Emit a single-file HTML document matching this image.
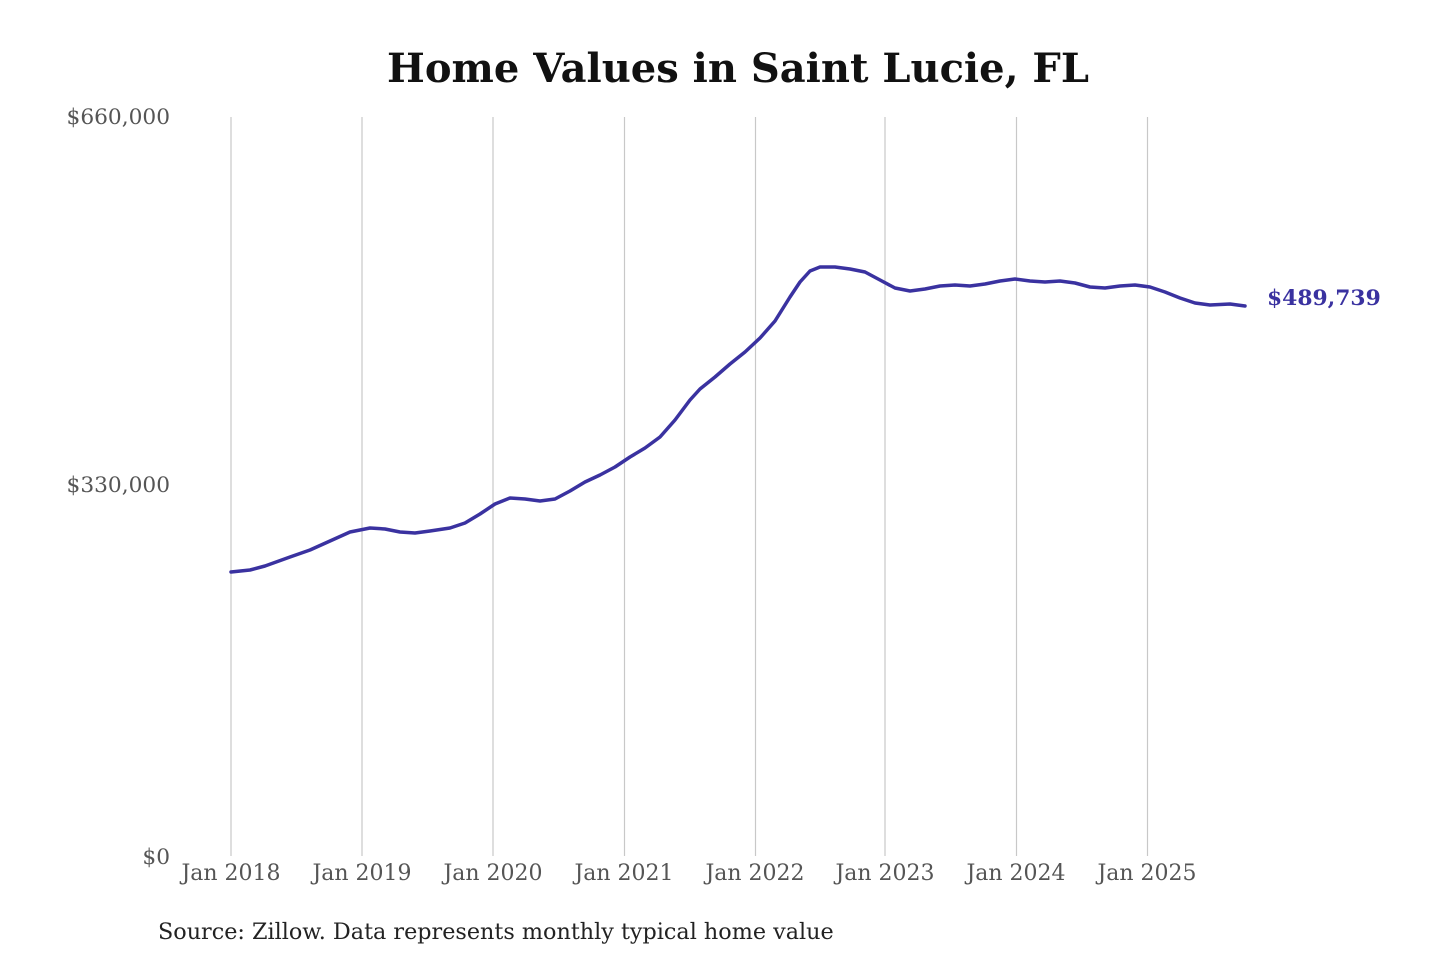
<!DOCTYPE html>
<html><head><meta charset="utf-8"><style>
html,body{margin:0;padding:0;background:#fff;}
svg{display:block;}
text{font-family:"DejaVu Serif","Liberation Serif",serif;}
</style></head><body>
<svg width="1440" height="960" viewBox="0 0 1440 960" xmlns="http://www.w3.org/2000/svg">
<text x="738" y="82" text-anchor="middle" font-size="40" font-weight="bold" fill="#111">Home Values in Saint Lucie, FL</text>
<g stroke="#c8c8c8" stroke-width="1.2">
<line x1="231" y1="117" x2="231" y2="856"/>
<line x1="362" y1="117" x2="362" y2="856"/>
<line x1="493" y1="117" x2="493" y2="856"/>
<line x1="624.5" y1="117" x2="624.5" y2="856"/>
<line x1="755.5" y1="117" x2="755.5" y2="856"/>
<line x1="885" y1="117" x2="885" y2="856"/>
<line x1="1016.5" y1="117" x2="1016.5" y2="856"/>
<line x1="1147.5" y1="117" x2="1147.5" y2="856"/>
</g>
<g font-size="21.7" fill="#555" text-anchor="end">
<text x="170" y="124">$660,000</text>
<text x="170" y="492">$330,000</text>
<text x="170" y="864">$0</text>
</g>
<g font-size="22" fill="#555" text-anchor="middle">
<text x="231" y="880">Jan 2018</text>
<text x="362" y="880">Jan 2019</text>
<text x="493" y="880">Jan 2020</text>
<text x="624" y="880">Jan 2021</text>
<text x="755" y="880">Jan 2022</text>
<text x="885" y="880">Jan 2023</text>
<text x="1016" y="880">Jan 2024</text>
<text x="1147" y="880">Jan 2025</text>
</g>
<polyline fill="none" stroke="#3a32a0" stroke-width="3.5" stroke-linejoin="round" stroke-linecap="round" points="231,572 250,570 265,566 290,557 310,550 330,541 350,532 370,528 385,529 400,532 415,533 430,531 450,528 465,523 480,514 495,504 510,498 525,499 540,501 555,499 570,491 585,482 600,475 615,467 630,457 645,448 660,437 675,420 690,400 700,389 715,377 730,364 745,352 760,338 775,321 790,297 800,282 810,271 820,267 835,267 850,269 865,272 880,280 895,288 910,291 925,289 940,286 955,285 970,286 985,284 1000,281 1015,279 1030,281 1045,282 1060,281 1075,283 1090,287 1105,288 1120,286 1135,285 1150,287 1165,292 1180,298 1195,303 1210,305 1230,304 1245,306"/>
<text x="1267" y="305" font-size="21.8" font-weight="bold" fill="#3a32a0">$489,739</text>
<text x="158" y="939" font-size="22.3" fill="#222">Source: Zillow. Data represents monthly typical home value</text>
</svg>
</body></html>
